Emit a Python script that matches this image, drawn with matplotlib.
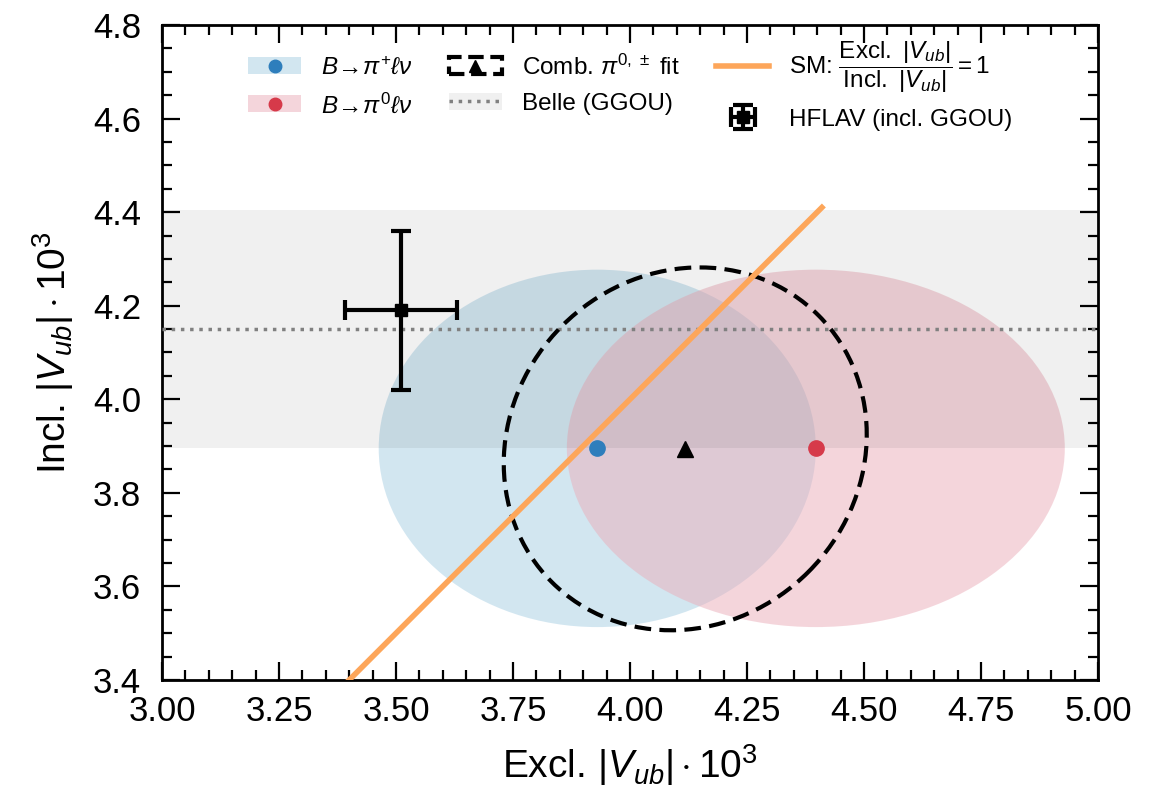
import numpy as np
import matplotlib
matplotlib.use("Agg")
import matplotlib.pyplot as plt
from matplotlib.patches import Ellipse, Patch
from matplotlib.lines import Line2D
from matplotlib.ticker import MultipleLocator

plt.rcParams['font.family'] = ['Liberation Sans', 'DejaVu Sans']
plt.rcParams['mathtext.fontset'] = 'custom'
plt.rcParams['mathtext.rm'] = 'Liberation Sans'
plt.rcParams['mathtext.it'] = 'Liberation Sans:italic'
plt.rcParams['mathtext.bf'] = 'Liberation Sans:bold'

# Datos
pip_centro = [3.93, 3.895]      # B -> pi+ l nu
pip_ancho = [0.934, 0.764]
pi0_centro = [4.397, 3.895]     # B -> pi0 l nu
pi0_ancho = [1.064, 0.764]
comb_centro = [4.118, 3.894]    # ajuste combinado
comb_ancho = [0.806, 0.744]
comb_angulo = 45

belle_valor = 4.15
belle_banda = [3.895, 4.405]

hflav_x, hflav_xerr = 3.51, 0.12
hflav_y, hflav_yerr = 4.19, 0.17

sm_x = [3.40, 4.41]

c_azul = '#2e7ebc'
c_rojo = '#d63a4a'
c_azul_claro = '#a6cee3'
c_rosa = '#ebadb9'
c_naranja = '#fda65a'

fig, ax = plt.subplots(figsize=(11.54, 7.99), dpi=100)
fig.subplots_adjust(left=0.1404, right=0.9515, bottom=0.149, top=0.9687)

# Elipses
ax.add_patch(Ellipse(pip_centro, pip_ancho[0], pip_ancho[1], color=c_azul_claro, alpha=0.5, lw=0, zorder=1))
ax.add_patch(Ellipse(pi0_centro, pi0_ancho[0], pi0_ancho[1], color=c_rosa, alpha=0.5, lw=0, zorder=1))

# Banda Belle
ax.axhspan(belle_banda[0], belle_banda[1], color='black', alpha=0.06, lw=0, zorder=2)
ax.axhline(belle_valor, color='gray', ls=':', lw=2.5, zorder=3)

ax.add_patch(Ellipse(comb_centro, comb_ancho[0], comb_ancho[1], angle=comb_angulo,
                     fill=False, ec='black', ls=(0, (4, 2)), lw=3, zorder=4))

# Linea SM
ax.plot(sm_x, sm_x, color=c_naranja, lw=4, zorder=5)

# Puntos centrales
ax.plot(pip_centro[0], pip_centro[1], 'o', color=c_azul, ms=11, zorder=6)
ax.plot(pi0_centro[0], pi0_centro[1], 'o', color=c_rojo, ms=11, zorder=6)
ax.plot(comb_centro[0], comb_centro[1], '^', color='black', ms=11, zorder=6)

# HFLAV
eb = ax.errorbar(hflav_x, hflav_y, xerr=hflav_xerr, yerr=hflav_yerr, fmt='s', color='black',
                 ms=9, lw=3, capsize=7, capthick=3, zorder=7)

ax.set_xlim(3.0, 5.0)
ax.set_ylim(3.4, 4.8)
ax.xaxis.set_major_locator(MultipleLocator(0.25))
ax.xaxis.set_minor_locator(MultipleLocator(0.05))
ax.yaxis.set_major_locator(MultipleLocator(0.2))
ax.yaxis.set_minor_locator(MultipleLocator(0.05))
ax.tick_params(which='both', direction='in', top=True, right=True, labelsize=25, width=1.6)
ax.tick_params(which='major', length=13)
ax.tick_params(which='minor', length=7)
ax.tick_params(axis='x', which='major', pad=11)
ax.tick_params(axis='y', which='major', pad=15)
for s in ax.spines.values():
    s.set_linewidth(2)

ax.set_xlabel(r'Excl. $|V_{ub}|\cdot10^3$', fontsize=28, labelpad=10)
ax.set_ylabel(r'Incl. $|V_{ub}|\cdot10^3$', fontsize=28, labelpad=12)

# Leyenda
h_pip = (Patch(color=c_azul_claro, alpha=0.5, lw=0),
         Line2D([], [], marker='o', color=c_azul, ls='', ms=9))
h_pi0 = (Patch(color=c_rosa, alpha=0.5, lw=0),
         Line2D([], [], marker='o', color=c_rojo, ls='', ms=9))
h_comb = (Patch(fill=False, ec='black', ls='--', lw=3),
          Line2D([], [], marker='^', color='black', ls='', ms=9))
h_belle = (Patch(color='black', alpha=0.06, lw=0),
           Line2D([], [], color='gray', ls=':', lw=2.5))
h_sm = Line2D([], [], color=c_naranja, lw=4)

handles = [h_pip, h_pi0, h_comb, h_belle, h_sm, eb]
labels = [r'$B\!\to\!\pi^{+}\ell\nu$', r'$B\!\to\!\pi^{0}\ell\nu$',
          r'Comb. $\pi^{0,\,\pm}$ fit', 'Belle (GGOU)',
          r'SM: $\dfrac{\mathrm{Excl.}\ |V_{ub}|}{\mathrm{Incl.}\ |V_{ub}|} = 1$',
          'HFLAV (incl. GGOU)']
ax.legend(handles, labels, ncol=3, loc='upper center', bbox_to_anchor=(0.5, 1.0),
          frameon=False, fontsize=17.5, columnspacing=1.5, handlelength=2.2,
          labelspacing=0.55, borderaxespad=0.2)

fig.savefig('out.png', dpi=100)
